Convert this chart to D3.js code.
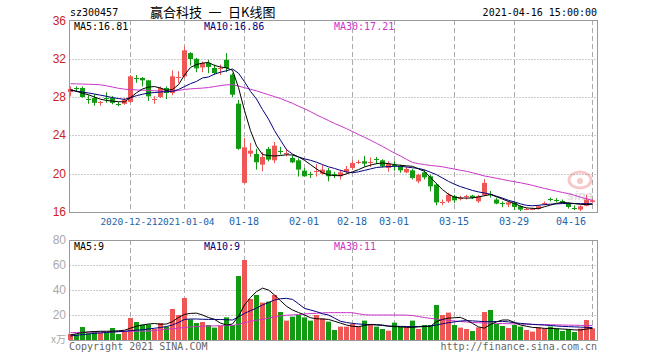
<!DOCTYPE html>
<html><head><meta charset="utf-8">
<script src="https://cdn.jsdelivr.net/npm/d3@7"></script>
<style>
html,body{margin:0;padding:0;background:#fff;}
svg{display:block;}
</style></head><body>
<svg id="c" width="660" height="360"></svg>
<script>
const dates = ["2020-12-07","2020-12-08","2020-12-09","2020-12-10","2020-12-11","2020-12-14","2020-12-15","2020-12-16","2020-12-17","2020-12-18","2020-12-21","2020-12-22","2020-12-23","2020-12-24","2020-12-25","2020-12-28","2020-12-29","2020-12-30","2020-12-31","2021-01-04","2021-01-05","2021-01-06","2021-01-07","2021-01-08","2021-01-11","2021-01-12","2021-01-13","2021-01-14","2021-01-15","2021-01-18","2021-01-19","2021-01-20","2021-01-21","2021-01-22","2021-01-25","2021-01-26","2021-01-27","2021-01-28","2021-01-29","2021-02-01","2021-02-02","2021-02-03","2021-02-04","2021-02-05","2021-02-08","2021-02-09","2021-02-10","2021-02-18","2021-02-19","2021-02-22","2021-02-23","2021-02-24","2021-02-25","2021-02-26","2021-03-01","2021-03-02","2021-03-03","2021-03-04","2021-03-05","2021-03-08","2021-03-09","2021-03-10","2021-03-11","2021-03-12","2021-03-15","2021-03-16","2021-03-17","2021-03-18","2021-03-19","2021-03-22","2021-03-23","2021-03-24","2021-03-25","2021-03-26","2021-03-29","2021-03-30","2021-03-31","2021-04-01","2021-04-02","2021-04-06","2021-04-07","2021-04-08","2021-04-09","2021-04-12","2021-04-13","2021-04-14","2021-04-15","2021-04-16"];

const opens = [28.54,28.98,28.95,27.82,27.9,27.43,27.92,27.9,27.3,27.3, 27.5,30.02,30.0,29.75,27.78,28.0,28.95,28.43,30.08,30.17, 32.6,32.0,31.1,31.56,31.04,30.98,31.9,30.34,27.32,19.04, 22.1,22.06,20.95,22.59,21.4,22.42,22.15,21.65,21.4,20.32, 19.92,20.23,20.0,20.35,19.92,19.73,20.2,20.6,21.18,21.3, 21.18,21.49,21.4,20.6,20.87,20.77,20.14,20.35,19.2,20.14, 19.73,18.86,16.98,17.1,17.64,17.45,17.62,17.71,17.12,17.74, 17.84,17.3,16.9,16.77,16.95,16.6,16.3,16.3,16.32,16.86, 17.32,17.24,17.14,16.88,16.45,16.25,16.65,17.05];
const highs = [29.12,29.12,29.12,28.2,28.3,27.6,28.5,28.1,27.5,27.9, 30.3,30.3,30.1,29.8,28.1,29.1,29.12,30.8,30.7,33.3, 32.7,32.1,31.7,31.9,31.4,31.4,32.6,30.5,27.7,23.73, 23.2,22.6,22.24,22.8,23.3,22.8,22.6,21.9,21.6,20.6, 20.2,21.0,20.9,20.6,20.2,20.4,20.8,21.4,21.45,21.85, 21.7,21.75,21.5,21.3,21.3,20.95,20.7,20.5,20.0,20.4, 19.9,19.0,17.3,18.0,17.8,17.7,17.8,17.8,17.8,19.45, 18.2,17.5,17.1,17.1,17.1,16.7,16.45,16.45,16.7,17.1, 17.5,17.45,17.3,17.0,16.7,16.7,17.8,17.35];
const lows = [28.08,28.55,27.95,27.3,27.1,27.1,27.4,27.25,27.05,27.2, 27.4,29.5,29.12,27.6,27.3,27.9,27.8,28.2,29.5,30.0, 31.3,30.6,30.6,30.5,30.3,30.3,30.6,28.0,22.5,18.96, 21.75,20.43,20.25,21.3,21.1,22.0,21.8,21.1,19.7,19.7, 19.55,19.7,19.9,19.2,19.55,19.4,20.0,20.4,21.0,20.7, 20.7,21.0,20.65,20.2,20.3,20.1,20.05,19.4,19.0,19.4, 18.16,16.7,16.7,16.95,16.95,17.2,17.3,17.35,16.95,17.65, 17.5,16.8,16.5,16.5,16.2,16.1,16.2,16.2,16.25,16.7, 17.1,17.0,16.9,16.35,16.2,16.1,16.6,16.95];
const closes = [28.85,28.95,28.0,27.8,27.4,27.47,27.88,27.4,27.26,27.73, 30.17,29.98,29.75,28.08,27.82,28.95,28.43,30.17,30.12,32.88, 31.98,31.0,31.56,31.15,30.52,31.02,31.04,28.25,22.6,22.75, 22.4,21.19,21.75,21.47,22.93,22.38,22.19,21.19,20.43,19.73, 19.88,20.27,20.43,19.73,19.88,20.14,20.5,21.12,21.22,21.05, 21.22,21.45,20.77,21.05,20.83,20.35,20.5,19.56,19.9,19.62, 18.68,17.0,17.02,17.8,17.22,17.49,17.66,17.47,17.64,19.04, 17.8,16.88,16.86,17.0,16.53,16.25,16.34,16.34,16.6,16.9, 17.28,17.2,17.1,16.53,16.41,16.6,17.3,17.21];
const volumes = [4.8,4.5,10.4,5.3,7.2,5.6,5.6,9.6,4.8,6.7, 17.6,14.4,12.3,12.5,8.8,13.6,10.7,24.8,20,33.6, 16.5,13.6,14.4,12,9.9,11.5,18.1,12,51.2,64, 32.8,36,29.9,30.7,36,22.4,15.5,18.7,20,18.1, 15.5,20,17.3,14.7,8,10.7,10.7,12.8,10.7,15.5, 12,10.7,8.8,7.5,13.9,10.7,10.7,15.5,8.8,12, 12,28,20,21.9,12,9.9,8.8,7.2,10.1,22.4, 24,12.8,11.2,9.6,12,10.7,8,6.7,10.1,9.1, 10.7,9.3,7.2,8.5,6.4,9.1,16,9.3];

const ma5 = [28.78,28.60,28.40,28.25,28.00,27.78,27.65,27.58,27.52,27.50, 27.95,28.45,28.85,29.05,29.10,28.95,28.70,28.80,29.30,30.30, 31.10,31.40,31.55,31.62,31.30,31.15,31.05,30.80,29.00,26.60, 24.50,22.90,22.00,21.90,21.85,21.90,21.98,21.95,21.75,21.40, 20.95,20.50,20.10,19.88,19.80,19.80,19.98,20.20,20.43,20.70, 20.90,21.05,21.12,21.05,20.95,20.88,20.82,20.77,20.50,20.25, 19.60,18.95,18.34,17.85,17.55,17.47,17.45,17.47,17.58,17.70, 17.82,17.60,17.35,17.10,16.90,16.60,16.43,16.38,16.35,16.55, 16.72,16.90,17.01,16.95,16.88,16.80,16.77,16.81];
const ma10 = [28.70,28.62,28.52,28.43,28.32,28.20,28.08,27.95,27.85,27.76, 27.95,28.15,28.30,28.42,28.48,28.53,28.57,28.60,28.80,29.10, 29.40,29.64,30.00,30.10,30.40,30.60,30.75,30.94,30.50,29.60, 28.60,27.80,26.70,25.70,24.50,23.50,22.51,22.05,21.75,21.55, 21.40,21.20,20.95,20.72,20.55,20.35,20.18,20.10,20.20,20.35, 20.50,20.65,20.70,20.74,20.77,20.77,20.70,20.62,20.55,20.40, 20.15,19.90,19.55,19.20,18.90,18.65,18.45,18.25,18.10,17.98, 17.85,17.65,17.45,17.22,17.05,16.85,16.70,16.65,16.70,16.77, 16.82,16.85,16.88,16.88,16.88,16.87,16.87,16.86];
const ma30 = [29.40,29.38,29.36,29.34,29.32,29.28,29.18,29.05,28.92,28.83, 28.78,28.75,28.72,28.70,28.66,28.63,28.61,28.60,28.70,28.80, 28.86,28.90,28.94,29.00,29.10,29.20,29.28,29.30,29.15,28.98, 28.82,28.65,28.45,28.25,28.05,27.85,27.60,27.35,27.05,26.78, 26.48,26.15,25.85,25.55,25.25,24.98,24.70,24.40,24.10,23.80, 23.50,23.18,22.85,22.50,22.15,21.85,21.50,21.18,21.05,20.95, 20.86,20.80,20.72,20.60,20.48,20.36,20.25,20.10,19.93,19.76, 19.65,19.52,19.40,19.28,19.16,19.05,18.92,18.78,18.62,18.46, 18.32,18.18,18.04,17.92,17.74,17.55,17.38,17.21];

const volMa5 = [4.0,5.0,6.0,6.5,6.8,7.0,7.0,7.1,7.4,7.8, 9.5,11.0,12.0,12.8,13.2,12.6,12.8,14.7,18.0,20.5, 21.3,21.5,20.0,18.0,16.5,13.5,12.0,12.8,19.0,28.0, 34.0,38.7,41.5,40.0,36.0,31.5,27.0,24.0,22.0,20.0, 17.8,17.0,16.8,16.5,15.0,13.5,12.0,11.0,10.7,11.5, 12.5,12.3,12.0,11.0,10.7,10.5,10.2,10.1,10.5,10.8, 11.0,14.7,16.5,17.5,17.8,18.1,16.0,13.3,10.5,9.5, 12.5,14.5,16.0,16.0,14.0,12.0,11.0,10.1,9.8,9.3, 9.3,9.0,8.8,8.5,8.1,8.0,8.8,9.3];
const volMa10 = [3.2,3.8,4.3,4.8,5.3,5.7,6.0,6.4,6.7,7.0, 7.5,7.9,8.2,8.8,9.4,10.0,10.8,12.0,14.0,16.5, 16.8,16.8,16.6,16.5,16.5,16.4,16.2,16.0,18.5,21.3, 23.5,25.5,28.0,30.0,32.0,33.0,33.3,32.5,29.0,25.3, 24.0,22.7,21.0,20.0,17.5,15.0,14.0,13.3,12.8,12.5, 12.3,12.0,11.6,11.2,11.0,10.9,10.8,10.7,10.8,11.0, 11.2,12.0,13.0,13.9,14.5,15.2,15.5,15.3,15.0,14.7, 14.7,14.8,14.9,14.5,13.8,13.3,12.9,12.5,12.2,12.0, 11.6,11.2,10.9,10.7,10.5,10.3,10.1,9.9];
const volMa30 = [5.9,6.0,6.1,6.2,6.3,6.4,6.5,6.6,6.7,6.8, 6.9,7.0,7.1,7.2,7.6,8.1,8.6,9.0,9.5,10.0, 10.5,10.8,11.0,11.2,11.3,11.4,11.5,11.6,12.5,14.0, 15.0,15.8,16.5,17.5,18.5,19.3,19.8,20.1,20.4,20.8, 21.2,21.4,21.7,21.9,21.9,21.9,21.9,21.8,21.0,20.2, 20.0,20.0,20.0,20.0,20.0,20.0,19.9,19.6,18.8,18.0, 17.3,16.8,16.2,15.7,15.2,14.8,14.4,14.0,13.8,13.6, 13.5,13.3,13.2,13.0,12.9,12.8,12.6,12.5,12.4,12.3, 12.2,12.1,12.0,11.9,11.8,11.7,11.6,11.5];

const priceTicks = [36,32,28,24,20,16];
const priceGrid = [32,28,24,20];
const volTicks = [80,60,40,20];
const volGrid = [60,40,20];
const tickDates = ["2020-12-21","2021-01-04","2021-01-18","2021-02-01","2021-02-18","2021-03-01","2021-03-15","2021-03-29","2021-04-16"];
const tickLabels = ["2020-12-21","2021-01-04","01-18","02-01","02-18","03-01","03-15","03-29","04-16"];
const legendPrice = ["MA5:16.81","MA10:16.86","MA30:17.21"];
const legendVol = ["MA5:9","MA10:9","MA30:11"];

const RED = "#ef5757", GREEN = "#129a12", NAVY = "#000080", MAG = "#cc33cc", BLK = "#000";
const MONO = "'DejaVu Sans Mono', monospace";
const SANS = "'Liberation Sans', Arial, sans-serif";

const svg = d3.select("#c");
const L = 69.5, R = 597.5;
const x = d3.scalePoint().domain(dates).range([70, 592]);
const y = d3.scaleLinear().domain([16, 36]).range([212, 20.5]);
const yv = d3.scaleLinear().domain([0, 80]).range([340, 240]);

// header
svg.append("text").attr("x", 70).attr("y", 16).attr("font-family", MONO).attr("font-size", 10).text("sz300457");
svg.append("text").attr("x", 150).attr("y", 17).attr("font-family", "'Noto Sans CJK SC', sans-serif").attr("font-size", 13).text("赢合科技\u2002一\u2002日K线图");
svg.append("text").attr("x", 597).attr("y", 16).attr("text-anchor", "end").attr("font-family", MONO).attr("font-size", 10).text("2021-04-16 15:00:00");

function panel(top, bottom, yScale, grid) {
  const g = svg.append("g");
  g.selectAll(".h").data(grid).enter().append("line")
    .attr("x1", L).attr("x2", R)
    .attr("y1", d => Math.round(yScale(d)) + 0.5).attr("y2", d => Math.round(yScale(d)) + 0.5)
    .attr("stroke", "#999").attr("stroke-dasharray", "1,2");
  g.selectAll(".v").data(tickDates).enter().append("line")
    .attr("x1", d => x(d) + 0.5).attr("x2", d => x(d) + 0.5)
    .attr("y1", top).attr("y2", bottom)
    .attr("stroke", "#aaa").attr("stroke-dasharray", "5,3");
  g.append("rect").attr("x", L).attr("y", top + 0.5).attr("width", R - L).attr("height", bottom - top)
    .attr("fill", "none").attr("stroke", "#999");
}
panel(20, 212, y, priceGrid);
panel(240, 340, yv, volGrid);

// watermark
const wm = svg.append("g").attr("opacity", 0.3);
wm.append("ellipse").attr("cx", 580).attr("cy", 180).attr("rx", 11).attr("ry", 8).attr("fill", "none").attr("stroke", "#e05050").attr("stroke-width", 3);
wm.append("circle").attr("cx", 580).attr("cy", 181).attr("r", 3).attr("fill", "#e05050");
wm.append("text").attr("x", 580).attr("y", 200).attr("text-anchor", "middle").attr("font-family", SANS).attr("font-weight", "bold").attr("font-style", "italic").attr("font-size", 13).attr("fill", "#999").text("sina");

// price labels
svg.selectAll(".pl").data(priceTicks).enter().append("text")
  .attr("x", 66).attr("y", d => y(d) + 4).attr("text-anchor", "end")
  .attr("font-family", SANS).attr("font-size", 12).attr("fill", "#c22").text(d => d);
svg.selectAll(".vl").data(volTicks).enter().append("text")
  .attr("x", 66).attr("y", d => yv(d) + 4).attr("text-anchor", "end")
  .attr("font-family", SANS).attr("font-size", 12).attr("fill", "#aaa").text(d => d);
svg.append("text").attr("x", 66).attr("y", 343).attr("text-anchor", "end")
  .attr("font-family", "'Noto Sans CJK SC', sans-serif").attr("font-size", 10).attr("fill", "#aaa").text("x万");

// date labels
const lastTick = tickDates.length - 1;
svg.selectAll(".dl").data(tickDates).enter().append("text")
  .attr("x", (d, i) => i === lastTick ? x(d) - 6 : i === 0 ? x(d) - 1 : i === 1 ? x(d) + 2 : x(d))
  .attr("y", 225)
  .attr("text-anchor", (d, i) => i === lastTick ? "end" : "middle")
  .attr("font-family", MONO).attr("font-size", (d, i) => i < 2 ? 9.5 : 10).attr("fill", "#1e64aa")
  .text((d, i) => tickLabels[i]);

// candles
const idx = d3.range(dates.length);
const cg = svg.append("g");
idx.forEach(i => {
  const cx = x(dates[i]);
  const up = closes[i] >= opens[i];
  const col = up ? RED : GREEN;
  cg.append("line").attr("x1", cx + 0.5).attr("x2", cx + 0.5)
    .attr("y1", y(highs[i])).attr("y2", y(lows[i])).attr("stroke", col);
  const t = y(Math.max(opens[i], closes[i])), b = y(Math.min(opens[i], closes[i]));
  if (b - t < 1.2) {
    cg.append("line").attr("x1", cx - 2).attr("x2", cx + 3)
      .attr("y1", Math.round(t) + 0.5).attr("y2", Math.round(t) + 0.5).attr("stroke", col);
  } else {
    cg.append("rect").attr("x", cx - 2).attr("width", 5)
      .attr("y", t).attr("height", b - t).attr("fill", col);
  }
});

// volume bars
svg.append("g").selectAll("rect").data(idx).enter().append("rect")
  .attr("x", i => x(dates[i]) - 2).attr("width", 5)
  .attr("y", i => yv(volumes[i])).attr("height", i => yv(0) - yv(volumes[i]))
  .attr("fill", i => closes[i] >= opens[i] ? RED : GREEN);

// MA lines
function maLine(arr, scale, color, w) {
  const ln = d3.line().x((d, i) => x(dates[i]) + 0.5).y(d => scale(d));
  svg.append("path").attr("d", ln(arr)).attr("fill", "none").attr("stroke", color).attr("stroke-width", w || 1);
}
maLine(ma30, y, MAG);
maLine(ma10, y, NAVY);
maLine(ma5, y, BLK);
maLine(volMa30, yv, MAG);
maLine(volMa10, yv, NAVY);
maLine(volMa5, yv, BLK);

// legends
const legX = [74, 204, 334], legC = [BLK, NAVY, MAG];
legendPrice.forEach((t, i) => svg.append("text").attr("x", legX[i]).attr("y", 30)
  .attr("font-family", MONO).attr("font-size", 10).attr("fill", legC[i]).text(t));
legendVol.forEach((t, i) => svg.append("text").attr("x", legX[i]).attr("y", 250)
  .attr("font-family", MONO).attr("font-size", 10).attr("fill", legC[i]).text(t));

// footer
svg.append("text").attr("x", 69).attr("y", 350).attr("font-family", MONO).attr("font-size", 10).attr("fill", "#666").text("Copyright 2021 SINA.COM");
svg.append("text").attr("x", 597).attr("y", 350).attr("text-anchor", "end").attr("font-family", MONO).attr("font-size", 10).attr("fill", "#666").text("http://finance.sina.com.cn");
</script>
</body></html>
